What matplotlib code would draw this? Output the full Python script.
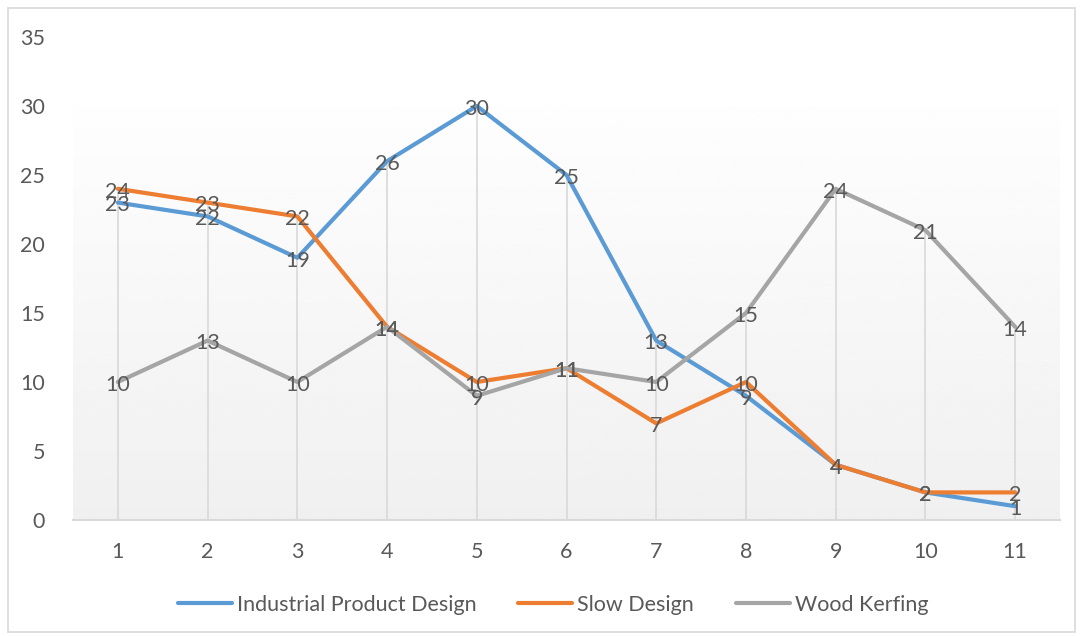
import matplotlib
matplotlib.use("Agg")
import matplotlib.pyplot as plt
import numpy as np
from matplotlib.patches import Rectangle

plt.rcParams["font.family"] = ["Lato", "DejaVu Sans"]

categories = [1, 2, 3, 4, 5, 6, 7, 8, 9, 10, 11]
industrial = [23, 22, 19, 26, 30, 25, 13, 9, 4, 2, 1]
slow = [24, 23, 22, 14, 10, 11, 7, 10, 4, 2, 2]
wood = [10, 13, 10, 14, 9, 11, 10, 15, 24, 21, 14]
series_names = ["Industrial Product Design", "Slow Design", "Wood Kerfing"]
colors = ["#5B9BD5", "#ED7D31", "#A5A5A5"]
text_color = "#595959"

W, H = 1081, 636
fig = plt.figure(figsize=(W / 100, H / 100), dpi=100)
ax = fig.add_axes([73 / W, 1 - 520 / H, 987 / W, 483 / H])

# chart border
fig.patches.append(Rectangle((8 / W, 4 / H), 1067 / W, 624 / H, transform=fig.transFigure,
                             fill=False, edgecolor="#d9d9d9", linewidth=1.2))

# gradient plot background
grad = np.linspace(0.94, 0.995, 256).reshape(-1, 1)
ax.imshow(grad, extent=[0.5, 11.5, 0, 30], origin="lower", cmap="gray", vmin=0, vmax=1,
          aspect="auto", zorder=0)

x = np.array(categories)
tops = np.max([industrial, slow, wood], axis=0)
ax.vlines(x, 0, tops, color="#d9d9d9", linewidth=1.2, zorder=1)

for name, vals, c in zip(series_names, [industrial, slow, wood], colors):
    ax.plot(x, vals, color=c, linewidth=3, label=name, zorder=2, solid_capstyle="round")
for vals in [industrial, slow, wood]:
    for xi, v in zip(x, vals):
        ax.annotate(str(v), (xi, v), xytext=(0, -2), textcoords="offset points",
                    ha="center", va="center", fontsize=15.5, color=text_color, zorder=3)

ax.set_xlim(0.5, 11.5)
ax.set_ylim(0, 35)
ax.set_xticks(x)
ax.set_xticklabels([str(c) for c in categories])
ax.set_yticks(range(0, 36, 5))
ax.tick_params(length=0, labelsize=15.5, labelcolor=text_color)
ax.tick_params(axis="x", pad=16)
ax.tick_params(axis="y", pad=20)
for s in ["top", "right", "left"]:
    ax.spines[s].set_visible(False)
ax.spines["bottom"].set_color("#d9d9d9")
ax.spines["bottom"].set_linewidth(1.5)
ax.set_facecolor("white")

fig.legend(loc="center", bbox_to_anchor=(553 / W, 1 - 605 / H), ncol=3, frameon=False,
           fontsize=15.5, labelcolor=text_color, handlelength=2.5, handletextpad=0.23,
           columnspacing=1.95)

fig.savefig("out.png", dpi=100)
